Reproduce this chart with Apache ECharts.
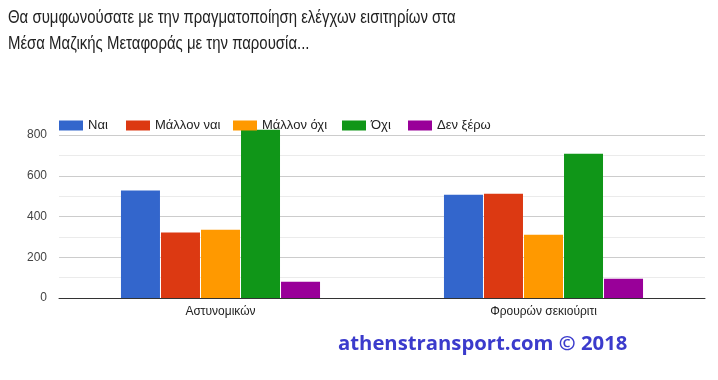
<!DOCTYPE html>
<html><head><meta charset="utf-8">
<script src="https://cdn.jsdelivr.net/npm/echarts@6/dist/echarts.min.js"></script>
<style>html,body{margin:0;padding:0;background:#fff}#c{width:718px;height:380px}</style>
</head><body><div id="c"></div>
<script>
var categories = ['Αστυνομικών', 'Φρουρών σεκιούριτι'];
var seriesNames = ['Ναι', 'Μάλλον ναι', 'Μάλλον όχι', 'Όχι', 'Δεν ξέρω'];
var nai = [527, 507];
var mallonNai = [321, 512];
var mallonOxi = [335, 310];
var oxi = [826, 708];
var denXero = [80, 94];
var colors = ['#3366cc', '#dc3912', '#ff9900', '#109618', '#990099'];
var titleLines = ['Θα συμφωνούσατε με την πραγματοποίηση ελέγχων εισιτηρίων στα', 'Μέσα Μαζικής Μεταφοράς με την παρουσία...'];
var watermark = 'athenstransport.com © 2018';

var values = [nai, mallonNai, mallonOxi, oxi, denXero];
var legendLefts = [59, 126, 233, 342, 408];
var chart = echarts.init(document.getElementById('c'), null, {renderer: 'canvas'});
var series = seriesNames.map(function (n, i) {
  return {
    name: n, type: 'bar', data: values[i], barWidth: 39, barGap: '2.6%',
    clip: false, itemStyle: {color: colors[i]}
  };
});
var legends = seriesNames.map(function (n, i) {
  return {
    data: [n], left: legendLefts[i], top: 119, padding: 0, itemWidth: 24, itemHeight: 10, itemGap: 0,
    icon: 'rect', selectedMode: false,
    textStyle: {fontFamily: 'Liberation Sans', fontSize: 13, color: '#222'}
  };
});
chart.setOption({
  animation: false,
  legend: legends,
  grid: {left: 59, right: 13, top: 135, bottom: 82, containLabel: false},
  xAxis: {
    type: 'category', data: categories,
    axisLine: {lineStyle: {color: '#333', width: 1}},
    axisTick: {show: false},
    axisLabel: {fontFamily: 'Liberation Sans', fontSize: 12, color: '#222', margin: 8}
  },
  yAxis: {
    type: 'value', min: 0, max: 800, interval: 100,
    axisLine: {show: false}, axisTick: {show: false},
    axisLabel: {
      fontFamily: 'Liberation Sans', fontSize: 12, color: '#444', margin: 12,
      formatter: function (v) { return v % 200 === 0 ? String(v) : ''; }
    },
    splitLine: {lineStyle: {color: ['#cccccc', '#ebebeb'], width: 1}}
  },
  series: series,
  graphic: [{
    type: 'text', x: 8, y: 5, scaleX: 0.83,
    style: {text: titleLines.join('\n'), fontFamily: 'Liberation Sans', fontSize: 18, fill: '#222', lineHeight: 26}
  }, {
    type: 'text', left: 338, top: 334,
    style: {text: watermark, fontFamily: 'Open Sans', fontWeight: 'bold', fontSize: 20.3, fill: '#3b3bcc'}
  }]
});
</script></body></html>
